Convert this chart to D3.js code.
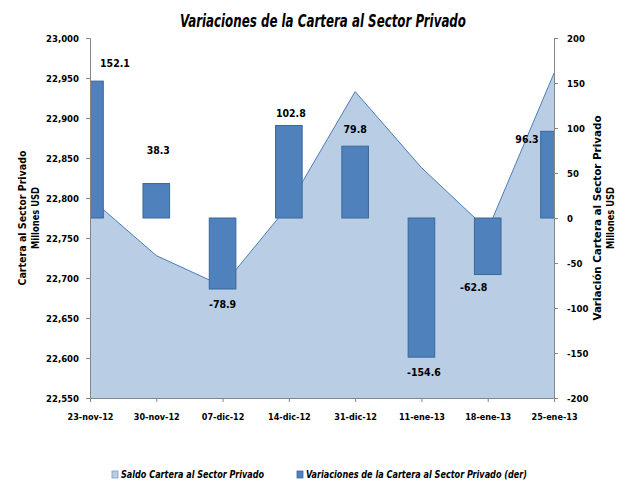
<!doctype html>
<html>
<head>
<meta charset="utf-8">
<title>Variaciones de la Cartera al Sector Privado</title>
<script src="https://cdn.jsdelivr.net/npm/d3@7"></script>
<style>
  body { margin: 0; background: #fff; }
  svg { display: block; }
  text { font-family: "Liberation Sans Narrow", "DejaVu Sans Condensed", "Open Sans", sans-serif; font-weight: bold; fill: #000; }
  .axis path, .axis line { stroke: #868686; }
</style>
</head>
<body>
<div id="chart"></div>
<script>
// data
var fechas = ['23-nov-12', '30-nov-12', '07-dic-12', '14-dic-12', '31-dic-12', '11-ene-13', '18-ene-13', '25-ene-13'];
var saldo = [22800, 22728, 22690, 22791, 22933, 22838, 22760, 22956];
var variacion = [152.1, 38.3, -78.9, 102.8, 79.8, -154.6, -62.8, 96.3];
var ticksIzq = [22550, 22600, 22650, 22700, 22750, 22800, 22850, 22900, 22950, 23000];
var ticksDer = [-200, -150, -100, -50, 0, 50, 100, 150, 200];
// manual nudges of the data labels (pixels, from bar end)
var labelDx = [25, 2, 0, 2, 0, 2.5, -14, -27];
var labelDy = [-18, -33, 15, -12.5, -17, 15, 12.5, 8];

var width = 626, height = 484;
var m = { top: 38, left: 90, right: 72, bottom: 86 };
var pw = width - m.left - m.right, ph = height - m.top - m.bottom;

// plain hyphen for negatives, like the original
var fmt = function(f) { return function(d) { return d3.format(f)(d).replace('\u2212', '-'); }; };

var svg = d3.select('#chart').append('svg')
  .attr('width', width)
  .attr('height', height);

var x = d3.scalePoint().domain(fechas).range([0, pw]);
var yL = d3.scaleLinear().domain([22550, 23000]).range([ph, 0]);
var yR = d3.scaleLinear().domain([-200, 200]).range([ph, 0]);
var barW = 26.6;

svg.append('defs').append('clipPath').attr('id', 'clip')
  .append('rect').attr('width', pw).attr('height', ph);

var g = svg.append('g').attr('transform', 'translate(' + m.left + ',' + m.top + ')');
var plot = g.append('g').attr('clip-path', 'url(#clip)');

// area series (left axis)
var area = d3.area()
  .x(function(d, i) { return x(fechas[i]); })
  .y0(ph)
  .y1(function(d) { return yL(d); });
var line = d3.line()
  .x(function(d, i) { return x(fechas[i]); })
  .y(function(d) { return yL(d); });

plot.append('path').datum(saldo)
  .attr('d', area)
  .attr('fill', '#B9CDE5');
plot.append('path').datum(saldo)
  .attr('d', line)
  .attr('fill', 'none')
  .attr('stroke', '#4A7EBB')
  .attr('stroke-width', 1);

// column series (right axis)
plot.selectAll('rect.bar').data(variacion).enter()
  .append('rect')
  .attr('class', 'bar')
  .attr('x', function(d, i) { return x(fechas[i]) - barW / 2; })
  .attr('y', function(d) { return yR(Math.max(0, d)); })
  .attr('width', barW)
  .attr('height', function(d) { return Math.abs(yR(d) - yR(0)); })
  .attr('fill', '#4F81BD')
  .attr('stroke', '#3A679C')
  .attr('stroke-width', 1);

// data labels
g.selectAll('text.lbl').data(variacion).enter()
  .append('text')
  .attr('class', 'lbl')
  .attr('x', function(d, i) { return x(fechas[i]) + labelDx[i]; })
  .attr('y', function(d, i) { return yR(d) + labelDy[i]; })
  .attr('dy', '0.35em')
  .attr('text-anchor', 'middle')
  .style('font-size', '10.5px')
  .text(fmt('.1f'));

// axes
var axL = g.append('g').attr('class', 'axis')
  .call(d3.axisLeft(yL).tickValues(ticksIzq).tickFormat(d3.format(',')).tickSize(4).tickPadding(7));
var axR = g.append('g').attr('class', 'axis')
  .attr('transform', 'translate(' + pw + ',0)')
  .call(d3.axisRight(yR).tickValues(ticksDer).tickFormat(fmt('d')).tickSize(4).tickPadding(9));
var axB = g.append('g').attr('class', 'axis')
  .attr('transform', 'translate(0,' + ph + ')')
  .call(d3.axisBottom(x).tickSize(4).tickPadding(12));
[axL, axR, axB].forEach(function(a) {
  a.select('.domain').attr('stroke', '#868686');
  a.selectAll('text').style('font-size', '9.5px').style('font-family', null);
});
axB.selectAll('text').style('font-size', '9px');

// titles
svg.append('text')
  .attr('x', 323).attr('y', 27)
  .attr('text-anchor', 'middle')
  .attr('textLength', 286).attr('lengthAdjust', 'spacingAndGlyphs')
  .style('font-size', '18px').style('font-style', 'italic')
  .text('Variaciones de la Cartera al Sector Privado');

var tl = svg.append('text')
  .attr('transform', 'translate(26,' + (m.top + ph / 2) + ') rotate(-90)')
  .attr('text-anchor', 'middle')
  .style('font-size', '10px');
tl.append('tspan').attr('x', 0).attr('y', 0)
  .attr('textLength', 135).attr('lengthAdjust', 'spacingAndGlyphs')
  .text('Cartera al Sector Privado');
tl.append('tspan').attr('x', 0).attr('y', 13)
  .attr('textLength', 62).attr('lengthAdjust', 'spacingAndGlyphs')
  .text('Millones USD');

var tr = svg.append('text')
  .attr('transform', 'translate(601,' + (m.top + ph / 2) + ') rotate(-90)')
  .attr('text-anchor', 'middle')
  .style('font-size', '10px');
tr.append('tspan').attr('x', 0).attr('y', 0)
  .attr('textLength', 205).attr('lengthAdjust', 'spacingAndGlyphs')
  .text('Variación  Cartera al Sector Privado');
tr.append('tspan').attr('x', 0).attr('y', 13)
  .attr('textLength', 62).attr('lengthAdjust', 'spacingAndGlyphs')
  .text('Millones USD');

// legend
var leg = [
  { name: 'Saldo Cartera al Sector Privado', fill: '#B9CDE5', stroke: '#7F9CC0', x: 112, w: 143 },
  { name: 'Variaciones de la Cartera al Sector Privado (der)', fill: '#4F81BD', stroke: '#3A679C', x: 297, w: 221 }
];
var lg = svg.selectAll('g.leg').data(leg).enter().append('g').attr('class', 'leg');
lg.append('rect')
  .attr('x', function(d) { return d.x; }).attr('y', 471)
  .attr('width', 6).attr('height', 7)
  .attr('fill', function(d) { return d.fill; })
  .attr('stroke', function(d) { return d.stroke; })
  .attr('stroke-width', 0.8);
lg.append('text')
  .attr('x', function(d) { return d.x + 9; }).attr('y', 478)
  .attr('textLength', function(d) { return d.w; }).attr('lengthAdjust', 'spacingAndGlyphs')
  .style('font-size', '11px').style('font-style', 'italic')
  .text(function(d) { return d.name; });
</script>
</body>
</html>
